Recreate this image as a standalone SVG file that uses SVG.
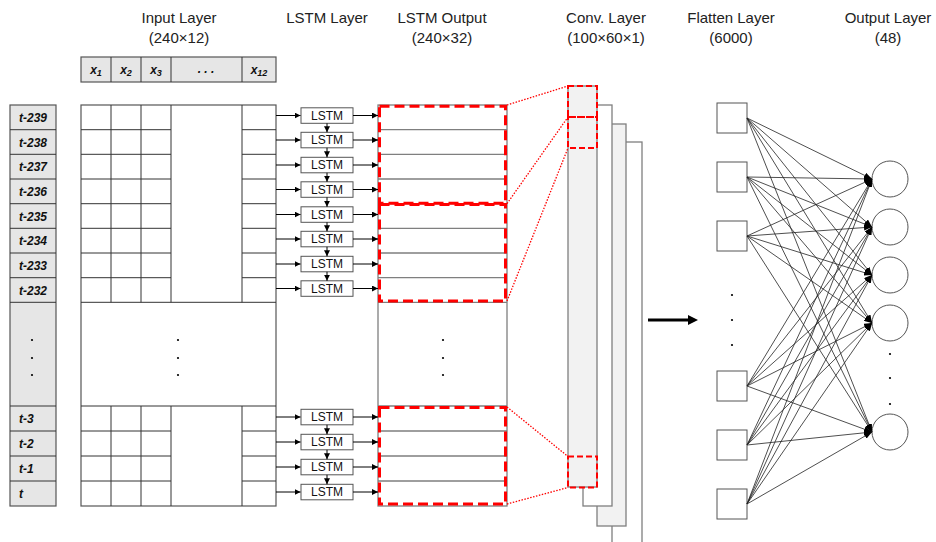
<svg xmlns="http://www.w3.org/2000/svg" width="936" height="542" viewBox="0 0 936 542">
<defs>
<marker id="ah" markerUnits="userSpaceOnUse" markerWidth="6" markerHeight="6" refX="6" refY="3" orient="auto"><path d="M0,0 L6,3 L0,6 z" fill="#000"/></marker>
<marker id="ah2" markerUnits="userSpaceOnUse" markerWidth="8" markerHeight="6" refX="8" refY="3" orient="auto"><path d="M0,0 L8,3 L0,6 z" fill="#000"/></marker>
<style>
.ttl{font-family:"Liberation Sans",Arial,sans-serif;font-size:15px;fill:#222;text-anchor:middle}
.tl{font-family:"Liberation Sans",Arial,sans-serif;font-size:12px;font-weight:bold;font-style:italic;fill:#111}
.hx{font-family:"Liberation Sans",Arial,sans-serif;font-size:12px;font-weight:bold;font-style:italic;fill:#111;text-anchor:middle}
.sub{font-size:9px}
.lt{font-family:"Liberation Sans",Arial,sans-serif;font-size:12px;fill:#111;text-anchor:middle}
.g{stroke:#333;stroke-width:1;fill:none}
.go{stroke:#7f7f7f;stroke-width:1.3;fill:none}
.box{fill:#fff;stroke:#555;stroke-width:1}
.ar{stroke:#000;stroke-width:1;marker-end:url(#ah)}
.rd{fill:none;stroke:#ff0000;stroke-width:3;stroke-dasharray:10 5}
.rd2{fill:none;stroke:#ff0000;stroke-width:2;stroke-dasharray:6 3}
.rdot{stroke:#ff0000;stroke-width:1.3;stroke-dasharray:1.5 1.5}
.fc{stroke:#222;stroke-width:0.8;marker-end:url(#ah2)}
.dot{fill:#000}
</style>
</defs>
<rect width="936" height="542" fill="#fff"/>

<g id="titles">
<text class="ttl" x="179" y="23">Input Layer</text>
<text class="ttl" x="179" y="43">(240×12)</text>
<text class="ttl" x="327" y="23">LSTM Layer</text>
<text class="ttl" x="442" y="23">LSTM Output</text>
<text class="ttl" x="442" y="43">(240×32)</text>
<text class="ttl" x="606" y="23">Conv. Layer</text>
<text class="ttl" x="606" y="43">(100×60×1)</text>
<text class="ttl" x="731" y="23">Flatten Layer</text>
<text class="ttl" x="731" y="43">(6000)</text>
<text class="ttl" x="888" y="23">Output Layer</text>
<text class="ttl" x="888" y="43">(48)</text>
</g>

<g id="feature-header">
<rect x="81" y="57" width="195" height="25" fill="#e6e6e6" stroke="#555" stroke-width="1.2"/>
<path class="g" d="M111,57V82M141,57V82M171,57V82M242,57V82"/>
<text class="hx" x="96" y="74">x<tspan class="sub" dy="2">1</tspan></text>
<text class="hx" x="126" y="74">x<tspan class="sub" dy="2">2</tspan></text>
<text class="hx" x="156" y="74">x<tspan class="sub" dy="2">3</tspan></text>
<text class="hx" x="206" y="73">. . .</text>
<text class="hx" x="259" y="74">x<tspan class="sub" dy="2">12</tspan></text>
</g>

<g id="time-steps">
<rect x="10" y="105" width="46" height="401" fill="#e6e6e6" stroke="#555" stroke-width="1.2"/>
<path class="g" d="M10,129.7H56M10,154.3H56M10,179H56M10,203.7H56M10,228.3H56M10,253H56M10,277.7H56M10,302.3H56M10,406H56M10,431H56M10,456H56M10,481H56"/>
<text class="tl" x="19" y="122">t-239</text>
<text class="tl" x="19" y="146.5">t-238</text>
<text class="tl" x="19" y="171">t-237</text>
<text class="tl" x="19" y="196">t-236</text>
<text class="tl" x="19" y="220.5">t-235</text>
<text class="tl" x="19" y="245">t-234</text>
<text class="tl" x="19" y="269.5">t-233</text>
<text class="tl" x="19" y="294.5">t-232</text>
<circle class="dot" cx="32" cy="340" r="1.1"/>
<circle class="dot" cx="32" cy="358" r="1.1"/>
<circle class="dot" cx="32" cy="375" r="1.1"/>
<text class="tl" x="19" y="423">t-3</text>
<text class="tl" x="19" y="448">t-2</text>
<text class="tl" x="19" y="473">t-1</text>
<text class="tl" x="19" y="498">t</text>
</g>

<g id="input-grid">
<rect x="81" y="105" width="195" height="401" fill="#fff" stroke="#555" stroke-width="1.2"/>
<path class="g" d="M81,129.7H171M242,129.7H276M81,154.3H171M242,154.3H276M81,179H171M242,179H276M81,203.7H171M242,203.7H276M81,228.3H171M242,228.3H276M81,253H171M242,253H276M81,277.7H171M242,277.7H276M81,302.3H276M81,406H276M81,431H171M242,431H276M81,456H171M242,456H276M81,481H171M242,481H276"/>
<path class="g" d="M111,105V302.3M141,105V302.3M171,105V302.3M242,105V302.3M111,406V506M141,406V506M171,406V506M242,406V506"/>
<circle class="dot" cx="178" cy="340" r="1.1"/>
<circle class="dot" cx="178" cy="358" r="1.1"/>
<circle class="dot" cx="178" cy="375" r="1.1"/>
</g>

<g id="lstm-layer">
<rect class="box" x="301" y="107.8" width="52" height="15.5"/><text class="lt" x="327" y="119.8">LSTM</text>
<rect class="box" x="301" y="132.3" width="52" height="15.5"/><text class="lt" x="327" y="144.3">LSTM</text>
<rect class="box" x="301" y="157.3" width="52" height="15.5"/><text class="lt" x="327" y="169.3">LSTM</text>
<rect class="box" x="301" y="181.8" width="52" height="15.5"/><text class="lt" x="327" y="193.8">LSTM</text>
<rect class="box" x="301" y="206.8" width="52" height="15.5"/><text class="lt" x="327" y="218.8">LSTM</text>
<rect class="box" x="301" y="231.3" width="52" height="15.5"/><text class="lt" x="327" y="243.3">LSTM</text>
<rect class="box" x="301" y="256.3" width="52" height="15.5"/><text class="lt" x="327" y="268.3">LSTM</text>
<rect class="box" x="301" y="280.8" width="52" height="15.5"/><text class="lt" x="327" y="292.8">LSTM</text>
<rect class="box" x="301" y="409.3" width="52" height="15.5"/><text class="lt" x="327" y="421.3">LSTM</text>
<rect class="box" x="301" y="434.3" width="52" height="15.5"/><text class="lt" x="327" y="446.3">LSTM</text>
<rect class="box" x="301" y="459.3" width="52" height="15.5"/><text class="lt" x="327" y="471.3">LSTM</text>
<rect class="box" x="301" y="484.3" width="52" height="15.5"/><text class="lt" x="327" y="496.3">LSTM</text>
</g>

<g id="lstm-output">
<rect x="378" y="105" width="129" height="401" fill="#fff" stroke="#7f7f7f" stroke-width="1.3"/>
<path class="go" d="M378,129.7H507M378,154.3H507M378,179H507M378,203.7H507M378,228.3H507M378,253H507M378,277.7H507M378,302.3H507M378,406H507M378,431H507M378,456H507M378,481H507"/>
<circle class="dot" cx="443" cy="340" r="1.1"/>
<circle class="dot" cx="443" cy="358" r="1.1"/>
<circle class="dot" cx="443" cy="375" r="1.1"/>
<rect class="rd" x="379.5" y="106.2" width="126" height="97"/>
<rect class="rd" x="379.5" y="204.5" width="126" height="96.5"/>
<rect class="rd" x="379.5" y="407.5" width="126" height="96.5"/>
</g>

<g id="conv-layer">
<rect x="612" y="142" width="30" height="420" fill="#fff" stroke="#7f7f7f" stroke-width="1.3"/>
<rect x="597" y="124" width="29" height="402" fill="#f2f2f2" stroke="#7f7f7f" stroke-width="1.3"/>
<rect x="583" y="105" width="29" height="401" fill="#fff" stroke="#7f7f7f" stroke-width="1.3"/>
<rect x="568" y="86" width="29" height="401" fill="#f2f2f2" stroke="#7f7f7f" stroke-width="1.3"/>
<rect class="rd2" x="568" y="86" width="29" height="31"/>
<rect class="rd2" x="568" y="117" width="29" height="31"/>
<rect class="rd2" x="568" y="456.5" width="29" height="31"/>
</g>

<g id="flatten-layer">
<rect class="box" x="717" y="103" width="30" height="30"/>
<rect class="box" x="717" y="162" width="30" height="30"/>
<rect class="box" x="717" y="221" width="30" height="30"/>
<rect class="box" x="717" y="371" width="30" height="30"/>
<rect class="box" x="717" y="430" width="30" height="30"/>
<rect class="box" x="717" y="489" width="30" height="30"/>
<circle class="dot" cx="732" cy="295" r="1.1"/>
<circle class="dot" cx="732" cy="320" r="1.1"/>
<circle class="dot" cx="732" cy="345" r="1.1"/>
</g>

<g id="output-layer">
<circle cx="890" cy="179" r="18" fill="#fff" stroke="#555" stroke-width="1"/>
<circle cx="890" cy="227" r="18" fill="#fff" stroke="#555" stroke-width="1"/>
<circle cx="890" cy="275" r="18" fill="#fff" stroke="#555" stroke-width="1"/>
<circle cx="890" cy="323" r="18" fill="#fff" stroke="#555" stroke-width="1"/>
<circle cx="890" cy="432" r="18" fill="#fff" stroke="#555" stroke-width="1"/>
<circle class="dot" cx="890" cy="354" r="1.1"/>
<circle class="dot" cx="890" cy="378" r="1.1"/>
<circle class="dot" cx="890" cy="404" r="1.1"/>
</g>

<g id="connectors">
<path class="ar" d="M276,115.5H300.5"/><path class="ar" d="M276,140H300.5"/><path class="ar" d="M276,165H300.5"/><path class="ar" d="M276,189.5H300.5"/>
<path class="ar" d="M276,214.5H300.5"/><path class="ar" d="M276,239H300.5"/><path class="ar" d="M276,264H300.5"/><path class="ar" d="M276,288.5H300.5"/>
<path class="ar" d="M276,417H300.5"/><path class="ar" d="M276,442H300.5"/><path class="ar" d="M276,467H300.5"/><path class="ar" d="M276,492H300.5"/>
<path class="ar" d="M353,115.5H378"/><path class="ar" d="M353,140H378"/><path class="ar" d="M353,165H378"/><path class="ar" d="M353,189.5H378"/>
<path class="ar" d="M353,214.5H378"/><path class="ar" d="M353,239H378"/><path class="ar" d="M353,264H378"/><path class="ar" d="M353,288.5H378"/>
<path class="ar" d="M353,417H378"/><path class="ar" d="M353,442H378"/><path class="ar" d="M353,467H378"/><path class="ar" d="M353,492H378"/>
<path class="ar" d="M327,123.3V132.3"/><path class="ar" d="M327,147.8V157.3"/><path class="ar" d="M327,172.8V181.8"/><path class="ar" d="M327,197.3V206.8"/>
<path class="ar" d="M327,222.3V231.3"/><path class="ar" d="M327,246.8V256.3"/><path class="ar" d="M327,271.8V280.8"/>
<path class="ar" d="M327,424.8V434.3"/><path class="ar" d="M327,449.8V459.3"/><path class="ar" d="M327,474.8V484.3"/>
<path class="rdot" d="M507,105L568,86M507,203.7L568,117M507,301L568,148M507,407L568,456.5M507,504L568,487.5"/>
<path d="M648,320H690" stroke="#000" stroke-width="3"/>
<polygon points="688,315 698,320 688,325" fill="#000"/>
<path class="fc" d="M747,118L872,179"/><path class="fc" d="M747,118L872,227"/><path class="fc" d="M747,118L872,275"/><path class="fc" d="M747,118L872,323"/><path class="fc" d="M747,118L872,432"/>
<path class="fc" d="M747,177L872,179"/><path class="fc" d="M747,177L872,227"/><path class="fc" d="M747,177L872,275"/><path class="fc" d="M747,177L872,323"/><path class="fc" d="M747,177L872,432"/>
<path class="fc" d="M747,236L872,179"/><path class="fc" d="M747,236L872,227"/><path class="fc" d="M747,236L872,275"/><path class="fc" d="M747,236L872,323"/><path class="fc" d="M747,236L872,432"/>
<path class="fc" d="M747,386L872,179"/><path class="fc" d="M747,386L872,227"/><path class="fc" d="M747,386L872,275"/><path class="fc" d="M747,386L872,323"/><path class="fc" d="M747,386L872,432"/>
<path class="fc" d="M747,445L872,179"/><path class="fc" d="M747,445L872,227"/><path class="fc" d="M747,445L872,275"/><path class="fc" d="M747,445L872,323"/><path class="fc" d="M747,445L872,432"/>
<path class="fc" d="M747,504L872,179"/><path class="fc" d="M747,504L872,227"/><path class="fc" d="M747,504L872,275"/><path class="fc" d="M747,504L872,323"/><path class="fc" d="M747,504L872,432"/>
</g>
</svg>
